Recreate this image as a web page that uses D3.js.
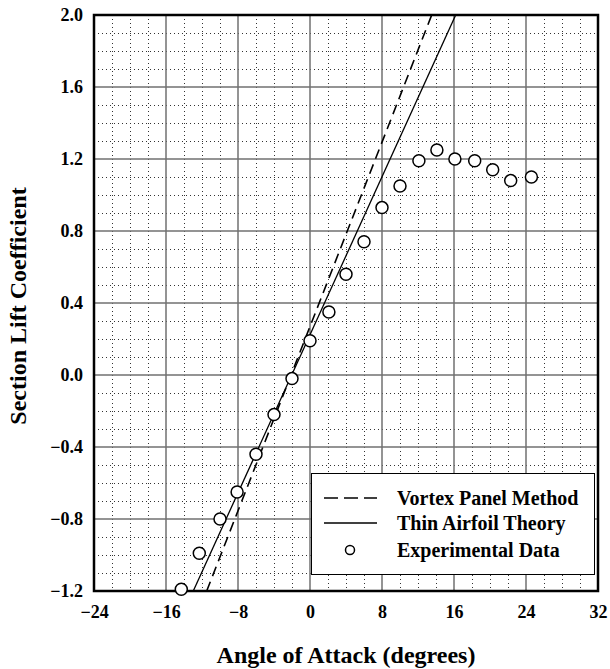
<!DOCTYPE html>
<html>
<head>
<meta charset="utf-8">
<script src="https://cdn.jsdelivr.net/npm/d3@7"></script>
<style>
  html, body { margin: 0; padding: 0; background: #fff; }
  svg text { font-family: "Liberation Serif", "Times New Roman", serif; font-weight: bold; fill: #000; }
</style>
</head>
<body>
<svg id="chart" width="610" height="669"></svg>
<script>
// ---- data ----
const alphaExp = [-14.3, -12.3, -10.0, -8.1, -6.0, -4.0, -2.0, 0.0, 2.1, 4.0, 6.0, 8.0, 10.0, 12.1, 14.1, 16.1, 18.3, 20.3, 22.3, 24.6];
const clExp    = [-1.19, -0.99, -0.80, -0.65, -0.44, -0.22, -0.02, 0.19, 0.35, 0.56, 0.74, 0.93, 1.05, 1.19, 1.25, 1.20, 1.19, 1.14, 1.08, 1.10];
const alphaThin = [-12.97, 16.19];
const clThin    = [-1.2, 2.0];
const alphaPanel = [-11.48, 13.52];
const clPanel    = [-1.2, 2.0];
const xTicks = [-24, -16, -8, 0, 8, 16, 24, 32];
const yTicks = [-1.2, -0.8, -0.4, 0.0, 0.4, 0.8, 1.2, 1.6, 2.0];
const legendLabels = ["Vortex Panel Method", "Thin Airfoil Theory", "Experimental Data"];

// ---- layout ----
const L = 94, R = 598, T = 15, B = 591;
const svg = d3.select("#chart");
const x = d3.scaleLinear().domain([-24, 32]).range([L, R]);
const y = d3.scaleLinear().domain([-1.2, 2.0]).range([B, T]);
const px = v => Math.round(v) + 0.5;

// minor grid (dotted)
const minorX = d3.range(-24, 32.001, 2).filter(v => v % 8 !== 0);
const minorY = d3.range(-12, 20.001, 1).map(v => v / 10).filter(v => Math.abs((v * 10) % 4) > 0.01);
const g = svg.append("g");
g.selectAll(".mx").data(minorX).join("line")
  .attr("x1", d => px(x(d))).attr("x2", d => px(x(d))).attr("y1", T).attr("y2", B)
  .attr("stroke", "#333").attr("stroke-width", 1).attr("stroke-dasharray", "1,3");
g.selectAll(".my").data(minorY).join("line")
  .attr("y1", d => px(y(d))).attr("y2", d => px(y(d))).attr("x1", L).attr("x2", R)
  .attr("stroke", "#333").attr("stroke-width", 1).attr("stroke-dasharray", "1,3");
// major grid
g.selectAll(".Mx").data(xTicks.slice(1, -1)).join("line")
  .attr("x1", d => x(d)).attr("x2", d => x(d)).attr("y1", T).attr("y2", B)
  .attr("stroke", "#707070").attr("stroke-width", 1.5);
g.selectAll(".My").data(yTicks.slice(1, -1)).join("line")
  .attr("y1", d => y(d)).attr("y2", d => y(d)).attr("x1", L).attr("x2", R)
  .attr("stroke", "#707070").attr("stroke-width", 1.5);

// clip
svg.append("clipPath").attr("id", "clip").append("rect")
  .attr("x", L).attr("y", T).attr("width", R - L).attr("height", B - T);

const line = d3.line().x(d => x(d[0])).y(d => y(d[1]));
svg.append("path").attr("clip-path", "url(#clip)")
  .datum(d3.zip(alphaThin, clThin)).attr("d", line)
  .attr("fill", "none").attr("stroke", "#000").attr("stroke-width", 1.3);
svg.append("path").attr("clip-path", "url(#clip)")
  .datum(d3.zip(alphaPanel, clPanel)).attr("d", line)
  .attr("fill", "none").attr("stroke", "#000").attr("stroke-width", 1.6)
  .attr("stroke-dasharray", "10,6");

// frame
svg.append("rect").attr("x", L).attr("y", T).attr("width", R - L).attr("height", B - T)
  .attr("fill", "none").attr("stroke", "#000").attr("stroke-width", 2.5);

// axes tick labels
const xAxis = d3.axisBottom(x).tickValues(xTicks).tickSize(0).tickPadding(0).tickFormat(d3.format("d"));
const xa = svg.append("g").attr("transform", `translate(0,${B})`).call(xAxis);
xa.select(".domain").remove();
xa.selectAll("text").attr("y", 27).attr("dy", null)
  .style("font-size", "18px").style("font-family", "Liberation Serif").style("font-weight", "bold");

const yAxis = d3.axisLeft(y).tickValues(yTicks).tickSize(0).tickPadding(11).tickFormat(d3.format(".1f"));
const ya = svg.append("g").attr("transform", `translate(${L},0)`).call(yAxis);
ya.select(".domain").remove();
ya.selectAll("text").attr("dy", "0.33em")
  .style("font-size", "18px").style("font-family", "Liberation Serif").style("font-weight", "bold");

// axis titles
svg.append("text").attr("x", (L + R) / 2).attr("y", 663).attr("text-anchor", "middle")
  .style("font-size", "24px").text("Angle of Attack (degrees)");
svg.append("text").attr("transform", `translate(26,${(T + B) / 2 + 3}) rotate(-90)`)
  .attr("text-anchor", "middle").style("font-size", "24px").text("Section Lift Coefficient");

// legend
const lg = svg.append("g");
lg.append("rect").attr("x", 311.5).attr("y", 473.5).attr("width", 283).attr("height", 101)
  .attr("fill", "#fff").attr("stroke", "#000").attr("stroke-width", 1);
const rowsY = [498, 523, 550];
lg.append("line").attr("x1", 324).attr("x2", 377).attr("y1", rowsY[0]).attr("y2", rowsY[0])
  .attr("stroke", "#000").attr("stroke-width", 1.6).attr("stroke-dasharray", "14,6");
lg.append("line").attr("x1", 324).attr("x2", 377).attr("y1", rowsY[1]).attr("y2", rowsY[1])
  .attr("stroke", "#000").attr("stroke-width", 1.3);
lg.append("circle").attr("cx", 350).attr("cy", rowsY[2]).attr("r", 4.5)
  .attr("fill", "#fff").attr("stroke", "#000").attr("stroke-width", 1.5);
lg.selectAll(".lt").data(legendLabels).join("text")
  .attr("x", 397).attr("y", (d, i) => rowsY[i] + 7).style("font-size", "20px").text(d => d);

// experimental points
svg.append("g").selectAll("circle").data(d3.zip(alphaExp, clExp)).join("circle")
  .attr("cx", d => x(d[0])).attr("cy", d => y(d[1])).attr("r", 6)
  .attr("fill", "#fff").attr("stroke", "#000").attr("stroke-width", 1.5);
</script>
</body>
</html>
